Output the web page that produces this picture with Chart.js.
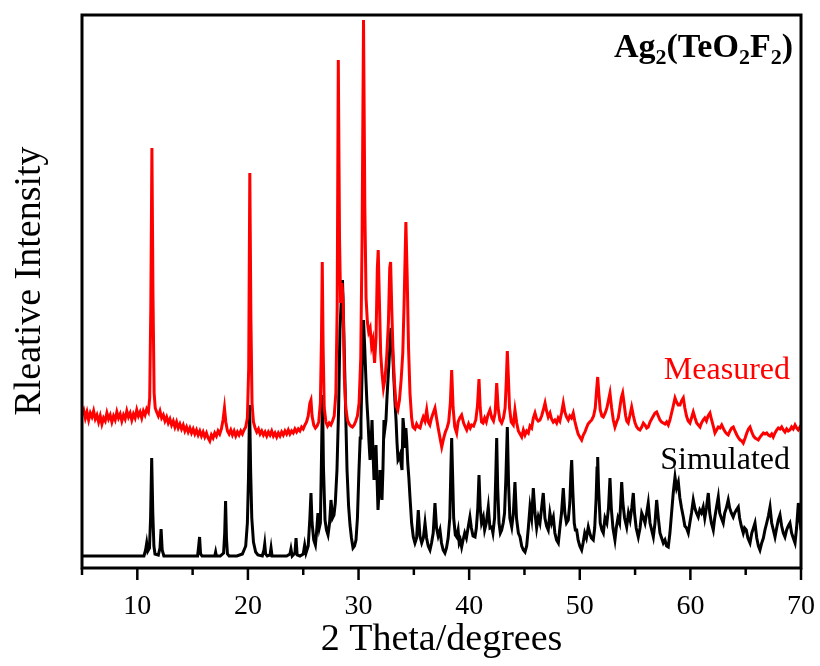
<!DOCTYPE html>
<html>
<head>
<meta charset="utf-8">
<title>Ag2(TeO2F2) XRD</title>
<script src="https://cdn.jsdelivr.net/npm/chart.js@4.4.0/dist/chart.umd.min.js"></script>
<style>
  html, body { margin: 0; padding: 0; background: #fff; }
</style>
</head>
<body>
<canvas id="xrdChart" width="820" height="666"></canvas>
<script>
// 2 theta axis
const xMin = 5, xMax = 70;
const xTicks = [5, 10, 15, 20, 25, 30, 35, 40, 45, 50, 55, 60, 65, 70];
const xTickLabels = [10, 20, 30, 40, 50, 60, 70];

// Measured pattern (red), 2theta / intensity (arb. units)
const measuredX = [
  5.0, 5.15, 5.3, 5.45, 5.6, 5.75, 5.9, 6.05, 6.2, 6.35, 6.5, 6.65, 6.8, 6.95, 7.1, 7.25, 7.4, 7.55, 7.7, 7.85,
  8.0, 8.15, 8.3, 8.45, 8.6, 8.75, 8.9, 9.05, 9.2, 9.35, 9.5, 9.65, 9.8, 9.95, 10.1, 10.25, 10.4, 10.55, 10.7, 10.85,
  11.0, 11.12, 11.22, 11.32, 11.42, 11.52, 11.62, 11.75, 11.9, 12.05, 12.2, 12.35, 12.5, 12.65, 12.8, 12.95,
  13.1, 13.25, 13.4, 13.55, 13.7, 13.85, 14.0, 14.15, 14.3, 14.45, 14.6, 14.75, 14.9, 15.05, 15.2, 15.35, 15.5,
  15.65, 15.8, 15.95, 16.1, 16.25, 16.4, 16.55, 16.7, 16.85, 17.0, 17.15, 17.3, 17.45, 17.6, 17.75, 17.88, 18.0,
  18.15, 18.3, 18.45, 18.6, 18.75, 18.9, 19.05, 19.2, 19.35, 19.5, 19.65, 19.8, 19.95, 20.07, 20.17, 20.27, 20.37,
  20.5, 20.65, 20.8, 20.95, 21.1, 21.25, 21.4, 21.55, 21.7, 21.85, 22.0, 22.15, 22.3, 22.45, 22.6, 22.75, 22.9,
  23.05, 23.2, 23.35, 23.5, 23.65, 23.8, 23.95, 24.1, 24.25, 24.4, 24.55, 24.7, 24.85, 25.0, 25.15, 25.3, 25.45,
  25.6, 25.7, 25.8, 25.95, 26.1, 26.25, 26.4, 26.55, 26.65, 26.72, 26.8, 26.9, 27.05, 27.2, 27.35, 27.5, 27.65,
  27.8, 27.95, 28.07, 28.17, 28.28, 28.38, 28.5, 28.6, 28.72, 28.85, 29.0, 29.15, 29.3, 29.45, 29.6, 29.75, 29.9,
  30.05, 30.2, 30.32, 30.45, 30.57, 30.68, 30.8, 30.92, 31.05, 31.18, 31.3, 31.45, 31.58, 31.7, 31.78, 31.88, 32.0,
  32.12, 32.25, 32.4, 32.55, 32.7, 32.82, 32.9, 33.0, 33.12, 33.25, 33.4, 33.55, 33.7, 33.85, 34.0, 34.12, 34.28,
  34.4, 34.52, 34.65, 34.8, 34.92, 35.1, 35.25, 35.4, 35.56, 35.7, 35.85, 36.0, 36.16, 36.3, 36.45, 36.6, 36.75,
  36.91, 37.05, 37.2, 37.35, 37.52, 37.7, 37.85, 38.0, 38.15, 38.3, 38.42, 38.55, 38.7, 38.87, 39.0, 39.15, 39.32,
  39.5, 39.65, 39.78, 39.95, 40.1, 40.23, 40.4, 40.6, 40.75, 40.89, 41.0, 41.12, 41.25, 41.4, 41.55, 41.7, 41.88,
  42.05, 42.2, 42.35, 42.49, 42.62, 42.78, 42.94, 43.1, 43.25, 43.35, 43.45, 43.55, 43.65, 43.8, 43.99, 44.14,
  44.3, 44.45, 44.6, 44.75, 44.9, 45.05, 45.2, 45.35, 45.5, 45.65, 45.8, 45.95, 46.1, 46.25, 46.4, 46.55, 46.7,
  46.86, 47.0, 47.15, 47.31, 47.45, 47.6, 47.75, 47.91, 48.05, 48.2, 48.35, 48.51, 48.65, 48.8, 48.96, 49.1, 49.25,
  49.41, 49.55, 49.7, 49.85, 50.0, 50.17, 50.32, 50.47, 50.6, 50.75, 50.9, 51.08, 51.25, 51.4, 51.52, 51.62, 51.72,
  51.85, 52.0, 52.13, 52.3, 52.45, 52.6, 52.73, 52.88, 53.03, 53.18, 53.33, 53.48, 53.62, 53.75, 53.88, 54.0, 54.15,
  54.25, 54.38, 54.52, 54.69, 54.85, 55.0, 55.15, 55.3, 55.44, 55.6, 55.75, 55.9, 56.05, 56.19, 56.35, 56.5, 56.65,
  56.8, 56.95, 57.1, 57.25, 57.4, 57.55, 57.7, 57.85, 58.0, 58.15, 58.3, 58.45, 58.61, 58.75, 58.9, 59.06, 59.2,
  59.36, 59.5, 59.65, 59.8, 59.96, 60.1, 60.26, 60.42, 60.57, 60.72, 60.87, 61.0, 61.15, 61.3, 61.45, 61.6, 61.77,
  61.92, 62.07, 62.22, 62.37, 62.52, 62.67, 62.83, 63.0, 63.15, 63.3, 63.42, 63.58, 63.73, 63.88, 64.03, 64.2,
  64.35, 64.5, 64.65, 64.78, 64.95, 65.1, 65.25, 65.39, 65.55, 65.7, 65.85, 66.0, 66.14, 66.3, 66.45, 66.6, 66.75,
  66.9, 67.05, 67.2, 67.35, 67.49, 67.65, 67.8, 67.95, 68.1, 68.25, 68.4, 68.55, 68.7, 68.85, 69.0, 69.15, 69.3,
  69.46, 69.6, 69.75, 69.91, 70.0
];
const measuredY = [
  154, 158, 150, 156, 148, 155, 151, 157, 149, 153, 146, 152, 144, 150, 147, 155, 149, 153, 146, 152,
  148, 156, 150, 154, 147, 153, 149, 157, 151, 155, 148, 154, 150, 158, 152, 156, 150, 157, 153, 159,
  156, 170, 260, 420, 270, 175, 160, 156, 152, 157, 150, 153, 147, 151, 145, 149,
  143, 147, 141, 146, 140, 144, 139, 143, 137, 141, 136, 140, 135, 139, 134, 138, 133,
  137, 132, 136, 131, 135, 130, 127, 133, 130, 135, 132, 137, 134, 139, 148, 160, 146,
  137, 134, 138, 133, 137, 132, 136, 133, 137, 134, 138, 141, 150, 200, 395, 250, 165,
  146, 140, 136, 139, 134, 137, 133, 136, 132, 136, 133, 137, 132, 135, 131, 135, 132,
  136, 133, 137, 134, 138, 134, 137, 135, 139, 136, 139, 137, 141, 139, 143, 146, 152,
  165, 168, 152, 143, 140, 142, 146, 165, 230, 306, 220, 160, 146, 142, 145, 143, 147,
  152, 175, 260, 508, 330, 265, 285, 270, 190, 160, 148, 144, 142, 141, 143, 147, 152,
  165, 210, 330, 548, 360, 270, 246, 236, 240, 222, 228, 205, 230, 300, 318, 270, 215,
  195, 180, 190, 212, 245, 300, 306, 260, 215, 185, 162, 158, 168, 188, 215, 265, 346,
  290, 220, 175, 150, 141, 139, 144, 141, 140, 146, 151, 147, 158, 146, 143, 150, 155,
  160, 150, 140, 131, 121, 130, 136, 140, 146, 165, 198, 160, 141, 135, 146, 150, 153,
  145, 141, 138, 144, 140, 143, 142, 148, 162, 189, 160, 146, 145, 150, 146, 153, 158,
  150, 147, 155, 185, 160, 148, 145, 150, 160, 185, 217, 190, 160, 146, 143, 158,
  145, 137, 134, 131, 138, 133, 137, 135, 142, 140, 150, 155, 149, 147, 148, 152, 158,
  165, 157, 151, 155, 149, 146, 148, 145, 150, 147, 155, 165, 156, 151, 148, 152, 150,
  155, 147, 140, 134, 131, 128, 133, 136, 140, 144, 146, 148, 152, 160, 178, 191, 175,
  158, 152, 151, 155, 160, 168, 175, 160, 148, 141, 146, 150, 160, 170, 175, 165, 152,
  147, 145, 152, 161, 152, 145, 141, 139, 138, 141, 145, 143, 140, 141, 146, 149, 152,
  155, 156, 152, 148, 146, 145, 144, 146, 143, 148, 155, 162, 170, 166, 163, 163, 167,
  170, 160, 152, 147, 145, 150, 156, 150, 145, 143, 141, 145, 148, 150, 147, 152, 155,
  148, 142, 135, 138, 141, 140, 143, 139, 136, 134, 133, 137, 140, 141, 137, 133,
  130, 128, 127, 125, 130, 135, 139, 141, 136, 132, 130, 129, 128, 131, 133, 135, 134,
  135, 133, 132, 134, 131, 135, 138, 140, 139, 141, 138, 136, 139, 137, 138, 141, 139,
  143, 140, 138, 141, 140
];

// Simulated pattern (black)
const simulatedX = [
  5.0, 6.0, 7.0, 8.0, 9.0, 10.0, 10.6, 10.75, 10.85, 10.95, 11.1, 11.2, 11.3, 11.4, 11.5, 11.6, 11.9, 12.05, 12.15,
  12.25, 12.4, 13.0, 14.0, 15.0, 15.45, 15.55, 15.63, 15.72, 15.85, 16.5, 17.0, 17.08, 17.15, 17.5, 17.8, 17.9,
  17.98, 18.06, 18.15, 18.3, 19.0, 19.5, 19.8, 19.95, 20.05, 20.15, 20.25, 20.35, 20.5, 20.7, 20.9, 21.3, 21.45,
  21.52, 21.6, 21.75, 22.0, 22.09, 22.18, 22.5, 23.0, 23.5, 23.8, 23.89, 24.0, 24.25, 24.35, 24.45, 24.7, 25.0,
  25.13, 25.25, 25.45, 25.6, 25.7, 25.8, 25.95, 26.1, 26.2, 26.33, 26.45, 26.55, 26.65, 26.74, 26.83, 26.97, 27.1,
  27.24, 27.38, 27.51, 27.65, 27.78, 27.9, 28.05, 28.2, 28.32, 28.45, 28.55, 28.66, 28.77, 28.87, 28.96, 29.1,
  29.23, 29.36, 29.5, 29.63, 29.77, 29.9, 30.04, 30.15, 30.22, 30.33, 30.45, 30.56, 30.67, 30.76, 30.85, 30.95,
  31.04, 31.13, 31.22, 31.31, 31.4, 31.49, 31.58, 31.67, 31.76, 31.85, 31.94, 32.03, 32.12, 32.21, 32.3, 32.39,
  32.48, 32.57, 32.66, 32.75, 32.84, 32.93, 33.02, 33.11, 33.2, 33.3, 33.39, 33.48, 33.57, 33.66, 33.75, 33.84,
  33.93, 34.02, 34.11, 34.2, 34.28, 34.35, 34.45, 34.55, 34.65, 34.8, 34.95, 35.1, 35.25, 35.4, 35.55, 35.71,
  35.86, 36.01, 36.15, 36.3, 36.46, 36.6, 36.75, 36.91, 37.05, 37.2, 37.36, 37.5, 37.65, 37.81, 37.95, 38.1,
  38.25, 38.35, 38.42, 38.5, 38.6, 38.75, 38.87, 39.0, 39.1, 39.2, 39.32, 39.45, 39.6, 39.75, 39.9, 40.07, 40.2,
  40.35, 40.53, 40.65, 40.78, 40.89, 41.0, 41.12, 41.28, 41.4, 41.55, 41.73, 41.88, 42.04, 42.15, 42.3, 42.4,
  42.49, 42.58, 42.7, 42.82, 42.94, 43.08, 43.2, 43.32, 43.45, 43.56, 43.68, 43.85, 44.0, 44.14, 44.28, 44.45,
  44.6, 44.75, 44.9, 45.05, 45.2, 45.35, 45.5, 45.65, 45.8, 45.95, 46.1, 46.25, 46.4, 46.55, 46.7, 46.85, 47.0,
  47.15, 47.3, 47.45, 47.61, 47.75, 47.9, 48.06, 48.2, 48.35, 48.51, 48.65, 48.8, 48.96, 49.1, 49.2, 49.27,
  49.38, 49.5, 49.6, 49.72, 49.85, 50.0, 50.17, 50.3, 50.45, 50.6, 50.77, 50.9, 51.05, 51.22, 51.35, 51.48,
  51.56, 51.62, 51.7, 51.85, 52.0, 52.13, 52.28, 52.45, 52.6, 52.73, 52.85, 53.0, 53.18, 53.3, 53.45, 53.6,
  53.7, 53.79, 53.9, 54.05, 54.24, 54.4, 54.55, 54.7, 54.84, 54.95, 55.1, 55.29, 55.45, 55.6, 55.74, 55.9,
  56.05, 56.19, 56.35, 56.5, 56.65, 56.8, 56.95, 57.1, 57.25, 57.4, 57.55, 57.7, 57.85, 58.0, 58.15, 58.3,
  58.45, 58.61, 58.75, 58.91, 59.05, 59.2, 59.36, 59.5, 59.65, 59.81, 59.95, 60.1, 60.26, 60.4, 60.55, 60.71,
  60.85, 61.0, 61.16, 61.3, 61.45, 61.62, 61.75, 61.9, 62.07, 62.2, 62.35, 62.52, 62.65, 62.8, 62.97, 63.1,
  63.25, 63.42, 63.55, 63.7, 63.87, 64.0, 64.15, 64.33, 64.45, 64.6, 64.78, 64.9, 65.05, 65.2, 65.39, 65.55,
  65.7, 65.84, 66.0, 66.15, 66.29, 66.45, 66.6, 66.74, 66.9, 67.05, 67.2, 67.35, 67.5, 67.65, 67.8, 67.95,
  68.1, 68.25, 68.4, 68.55, 68.7, 68.85, 69.0, 69.15, 69.3, 69.46, 69.6, 69.76, 69.88, 70.0
];
const simulatedY = [
  12, 12, 12, 12, 12, 12, 12, 18, 25, 17, 20, 50, 110, 55, 22, 14, 13, 20, 39,
  18, 12, 12, 12, 12, 12, 22, 31, 14, 12, 12, 12, 16, 12, 12, 15, 35,
  67, 30, 14, 12, 12, 14, 22, 45, 90, 163, 95, 50, 26, 16, 13, 12, 18,
  24, 14, 12, 13, 20, 12, 12, 12, 12, 14, 19, 12, 15, 30, 13, 12, 14,
  23, 15, 22, 50, 75, 45, 28, 23, 35, 55, 40, 45, 110, 173, 100, 48, 38,
  33, 45, 68, 50, 53, 65, 98, 160, 238, 270, 288, 240, 188, 140, 98, 62,
  43, 30, 20, 22, 28, 50, 98, 130, 148, 200, 248, 220, 188, 165, 148, 125,
  108, 125, 148, 115, 88, 100, 123, 90, 58, 75, 98, 80, 68, 100, 148, 140,
  148, 170, 188, 205, 223, 240, 233, 210, 188, 165, 148, 125, 108, 110, 113, 105,
  98, 150, 138, 120, 140, 128, 105, 90, 71, 45, 31, 25, 30, 58, 32, 25,
  30, 45, 30, 22, 18, 25, 35, 65, 40, 32, 38, 25, 18, 15, 20, 30,
  50, 100, 130, 95, 50, 33, 31, 38, 25, 28, 21, 28, 35, 30, 40, 51, 40,
  32, 31, 40, 60, 93, 60, 45, 51, 38, 45, 61, 40, 41, 35, 50, 90,
  130, 80, 45, 35, 38, 45, 55, 90, 141, 85, 50, 41, 55, 86, 50, 35,
  31, 22, 18, 16, 22, 40, 61, 50, 80, 55, 40, 51, 45, 60, 75, 50, 42,
  38, 55, 45, 51, 35, 28, 25, 40, 55, 80, 55, 45, 48, 65, 95, 108,
  75, 45, 38, 38, 28, 22, 18, 25, 35, 30, 41, 35, 30, 28, 40, 70,
  100, 111, 80, 45, 38, 35, 50, 45, 60, 90, 60, 40, 28, 40, 50, 45,
  65, 86, 65, 50, 41, 55, 48, 60, 75, 55, 40, 31, 40, 55, 51, 45,
  55, 65, 45, 38, 31, 45, 68, 50, 35, 30, 25, 28, 22, 21, 35, 55,
  75, 91, 80, 86, 70, 60, 51, 42, 40, 35, 45, 55, 68, 60, 55, 51,
  58, 55, 61, 50, 60, 75, 55, 45, 38, 50, 60, 71, 55, 50, 45, 55,
  60, 68, 60, 55, 51, 55, 58, 61, 50, 42, 35, 40, 38, 30, 25, 35,
  40, 45, 30, 22, 18, 25, 30, 38, 45, 52, 61, 45, 38, 31, 40, 48,
  53, 42, 35, 31, 38, 42, 45, 35, 30, 25, 40, 65, 50, 38
];

const serif = '"Liberation Serif", "Times New Roman", Times, serif';

function toPoints(xs, ys) {
  return xs.map((x, i) => ({ x: x, y: ys[i] }));
}

// frame, ticks and all the text
const framePlugin = {
  id: "frame",
  afterDraw(chart) {
    const { ctx, chartArea: a } = chart;
    const x = chart.scales.x;
    ctx.save();
    ctx.strokeStyle = "#000";
    ctx.lineWidth = 3;
    ctx.strokeRect(a.left, a.top, a.right - a.left, a.bottom - a.top);

    ctx.lineWidth = 2.5;
    xTicks.forEach(v => {
      const px = x.getPixelForValue(v);
      const len = v % 10 === 0 ? 12 : 7;
      ctx.beginPath();
      ctx.moveTo(px, a.bottom);
      ctx.lineTo(px, a.bottom + len);
      ctx.stroke();
    });

    ctx.fillStyle = "#000";
    ctx.textAlign = "center";
    ctx.textBaseline = "alphabetic";
    ctx.font = "28px " + serif;
    xTickLabels.forEach(v => ctx.fillText(String(v), x.getPixelForValue(v), 614));

    ctx.font = "38px " + serif;
    ctx.fillText("2 Theta/degrees", (a.left + a.right) / 2, 650);

    ctx.save();
    ctx.translate(40, 281);
    ctx.rotate(-Math.PI / 2);
    ctx.fillText("Rleative Intensity", 0, 0);
    ctx.restore();

    ctx.textAlign = "right";
    ctx.font = "32px " + serif;
    ctx.fillStyle = "#ff0000";
    ctx.fillText("Measured", 790, 379);
    ctx.fillStyle = "#000";
    ctx.fillText("Simulated", 790, 469);

    // Ag2(TeO2F2) with subscripts
    const parts = [["Ag", 0], ["2", 1], ["(TeO", 0], ["2", 1], ["F", 0], ["2", 1], [")", 0]];
    const big = "bold 34px " + serif, small = "bold 22px " + serif;
    let w = 0;
    parts.forEach(p => { ctx.font = p[1] ? small : big; w += ctx.measureText(p[0]).width; });
    let cx = 793 - w;
    ctx.textAlign = "left";
    parts.forEach(p => {
      ctx.font = p[1] ? small : big;
      ctx.fillText(p[0], cx, p[1] ? 64 : 57);
      cx += ctx.measureText(p[0]).width;
    });
    ctx.restore();
  }
};

new Chart(document.getElementById("xrdChart"), {
  type: "line",
  data: {
    datasets: [
      {
        label: "Measured",
        data: toPoints(measuredX, measuredY),
        borderColor: "#ff0000",
        borderWidth: 3,
        pointRadius: 0,
        tension: 0
      },
      {
        label: "Simulated",
        data: toPoints(simulatedX, simulatedY),
        borderColor: "#000000",
        borderWidth: 3,
        pointRadius: 0,
        tension: 0
      }
    ]
  },
  options: {
    responsive: false,
    animation: false,
    layout: { padding: { left: 82, right: 19, top: 15, bottom: 98 } },
    plugins: { legend: { display: false }, tooltip: { enabled: false } },
    scales: {
      x: { type: "linear", min: xMin, max: xMax, display: false },
      y: { min: 0, max: 553, display: false }
    }
  },
  plugins: [framePlugin]
});
</script>
</body>
</html>
